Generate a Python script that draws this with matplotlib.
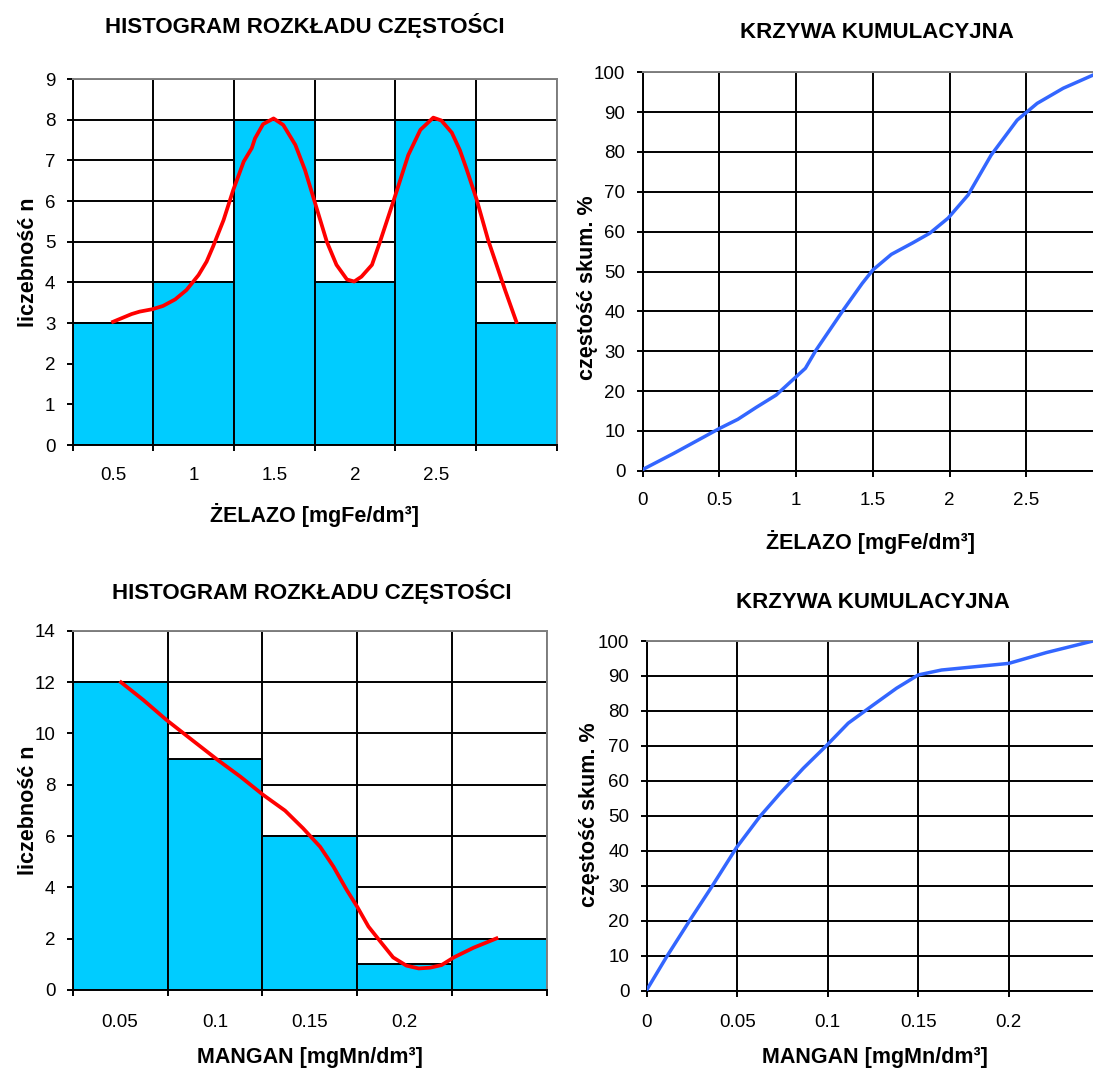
import numpy as np
import matplotlib.pyplot as plt

plt.rcParams['font.family'] = ['Liberation Sans', 'DejaVu Sans']

W, H = 1093, 1072

# ---- ŻELAZO ----
fe_labels = ['0.5', '1', '1.5', '2', '2.5', '']
fe_counts = [3, 4, 8, 4, 8, 3]
# linia wygładzona nad histogramem (pozycja w klasach, liczebność)
fe_curve_x = [0.50, 0.73, 0.83, 0.99, 1.12, 1.27, 1.41, 1.56, 1.66, 1.74, 1.87, 1.99,
              2.12, 2.22, 2.26, 2.36, 2.49, 2.61, 2.76, 2.88, 3.00, 3.15, 3.27, 3.40,
              3.49, 3.58, 3.71, 3.81, 3.98, 4.16, 4.31, 4.47, 4.57, 4.70, 4.80, 4.88,
              5.01, 5.15, 5.36, 5.50]
fe_curve_y = [3.03, 3.22, 3.28, 3.34, 3.42, 3.58, 3.81, 4.18, 4.51, 4.88, 5.53, 6.27,
              6.97, 7.30, 7.54, 7.89, 8.03, 7.87, 7.38, 6.76, 5.98, 5.00, 4.43, 4.07,
              4.02, 4.14, 4.43, 5.00, 6.02, 7.13, 7.75, 8.05, 7.98, 7.68, 7.25, 6.80,
              6.02, 5.04, 3.81, 3.03]
# krzywa kumulacyjna
fe_cum_x = [0.0, 0.20, 0.50, 0.62, 0.74, 0.87, 1.00, 1.06, 1.13, 1.31, 1.43, 1.50,
            1.62, 1.76, 1.87, 1.99, 2.12, 2.27, 2.44, 2.57, 2.74, 2.934]
fe_cum_y = [0.3, 4.3, 10.6, 12.9, 15.9, 19.0, 23.6, 25.7, 30.3, 40.5, 47.0, 50.4,
            54.3, 57.2, 59.6, 63.4, 69.2, 79.2, 88.0, 92.2, 96.0, 99.3]
fe_cum_ticks = [0, 0.5, 1, 1.5, 2, 2.5]

# ---- MANGAN ----
mn_labels = ['0.05', '0.1', '0.15', '0.2', '']
mn_counts = [12, 9, 6, 1, 2]
mn_curve_x = [0.51, 0.745, 0.99, 1.27, 1.52, 1.77, 2.01, 2.24, 2.43, 2.61, 2.75, 2.89,
              3.00, 3.12, 3.26, 3.38, 3.52, 3.65, 3.77, 3.89, 4.02, 4.23, 4.47]
mn_curve_y = [11.99, 11.30, 10.52, 9.71, 8.99, 8.31, 7.60, 6.99, 6.30, 5.58, 4.81, 3.90,
              3.25, 2.47, 1.82, 1.27, 0.95, 0.84, 0.87, 0.97, 1.27, 1.65, 2.01]
mn_cum_x = [0.0, 0.011, 0.0239, 0.0359, 0.0497, 0.0625, 0.0736, 0.0865, 0.0997, 0.1113,
            0.1251, 0.138, 0.150, 0.1628, 0.200, 0.2208, 0.2465]
mn_cum_y = [0.2, 9.7, 20.2, 29.7, 41.0, 49.8, 56.4, 63.6, 70.3, 76.5,
            81.7, 86.5, 90.3, 91.7, 93.6, 96.7, 100.0]
mn_cum_ticks = [0, 0.05, 0.1, 0.15, 0.2]

BAR = '#00CCFF'
RED = '#FF0000'
BLUE = '#3366FF'
GRAY = '#808080'
TICK_FS = 13.5


def box(l, t, r, b):
    return [l / W, 1 - b / H, (r - l) / W, (b - t) / H]


def ftext(x, y, s, **kw):
    fig.text(x / W, 1 - y / H, s, ha='center', va='center', **kw)


def style(ax):
    ax.set_axisbelow(True)
    ax.grid(True, which='major', color='black', lw=1.4)
    for side in ['left', 'bottom']:
        ax.spines[side].set_color('black')
        ax.spines[side].set_linewidth(1.4)
    ax.spines['top'].set_color(GRAY)
    ax.spines['right'].set_color(GRAY)
    ax.spines['top'].set_linewidth(1.4)
    ax.spines['right'].set_linewidth(1.4)
    ax.tick_params(axis='both', which='major', direction='out', length=4.5,
                   width=1.4, labelsize=TICK_FS)


def histogram(ax, labels, counts, cx, cy, ymax, ystep, xpad):
    n = len(counts)
    pos = np.arange(n) + 0.5
    ax.bar(pos, counts, width=1.0, color=BAR, edgecolor='black', lw=1.4, zorder=2)
    ax.plot(cx, cy, color=RED, lw=2.7, zorder=3)
    ax.set_xlim(0, n)
    ax.set_ylim(0, ymax)
    ax.set_yticks(np.arange(0, ymax + 0.1, ystep))
    ax.set_xticks(np.arange(n + 1))
    ax.set_xticklabels([])
    ax.set_xticks(pos, minor=True)
    ax.set_xticklabels(labels, minor=True)
    style(ax)
    ax.tick_params(axis='x', which='minor', length=0, pad=xpad, labelsize=TICK_FS)
    ax.tick_params(axis='y', pad=8)


fig = plt.figure(figsize=(W / 100, H / 100), dpi=100)

# histogram Fe
ax1 = fig.add_axes(box(72.7, 79, 556.7, 445))
histogram(ax1, fe_labels, fe_counts, fe_curve_x, fe_curve_y, 9, 1, 16)
ftext(305, 25, 'HISTOGRAM ROZKŁADU CZĘSTOŚCI', fontsize=16, fontweight='bold')
ftext(315, 515, 'ŻELAZO [mgFe/dm³]', fontsize=15.5, fontweight='bold')
ftext(29, 262, 'liczebność n', fontsize=15.5, fontweight='bold', rotation=90)

# krzywa kumulacyjna Fe
ax2 = fig.add_axes(box(642.7, 72.3, 1093, 470.7))
ax2.plot(fe_cum_x, fe_cum_y, color=BLUE, lw=2.5, zorder=3)
ax2.set_xlim(0, fe_cum_x[-1])
ax2.set_ylim(0, 100)
ax2.set_xticks(fe_cum_ticks)
ax2.set_xticklabels(['0', '0.5', '1', '1.5', '2', '2.5'])
ax2.set_yticks(np.arange(0, 101, 10))
style(ax2)
ax2.spines['right'].set_visible(False)
ax2.tick_params(axis='x', pad=11)
ax2.tick_params(axis='y', pad=8)
ftext(877, 33, 'KRZYWA KUMULACYJNA', fontsize=16, fontweight='bold')
ftext(870, 542, 'ŻELAZO [mgFe/dm³]', fontsize=15.5, fontweight='bold')
ftext(588, 288, 'częstość skum. %', fontsize=15.5, fontweight='bold', rotation=90)

# histogram Mn
ax3 = fig.add_axes(box(72.7, 630.7, 546.7, 990))
histogram(ax3, mn_labels, mn_counts, mn_curve_x, mn_curve_y, 14, 2, 17)
ftext(312, 592, 'HISTOGRAM ROZKŁADU CZĘSTOŚCI', fontsize=16, fontweight='bold')
ftext(310, 1058, 'MANGAN [mgMn/dm³]', fontsize=15.5, fontweight='bold')
ftext(29, 810, 'liczebność n', fontsize=15.5, fontweight='bold', rotation=90)

# krzywa kumulacyjna Mn
ax4 = fig.add_axes(box(646.7, 641, 1093, 990.7))
ax4.plot(mn_cum_x, mn_cum_y, color=BLUE, lw=2.5, zorder=3)
ax4.set_xlim(0, mn_cum_x[-1])
ax4.set_ylim(0, 100)
ax4.set_xticks(mn_cum_ticks)
ax4.set_xticklabels(['0', '0.05', '0.1', '0.15', '0.2'])
ax4.set_yticks(np.arange(0, 101, 10))
style(ax4)
ax4.spines['right'].set_visible(False)
ax4.tick_params(axis='x', pad=12)
ax4.tick_params(axis='y', pad=8)
ftext(873, 602, 'KRZYWA KUMULACYJNA', fontsize=16, fontweight='bold')
ftext(875, 1058, 'MANGAN [mgMn/dm³]', fontsize=15.5, fontweight='bold')
ftext(590, 815, 'częstość skum. %', fontsize=15.5, fontweight='bold', rotation=90)

fig.savefig('out.png', dpi=100)
